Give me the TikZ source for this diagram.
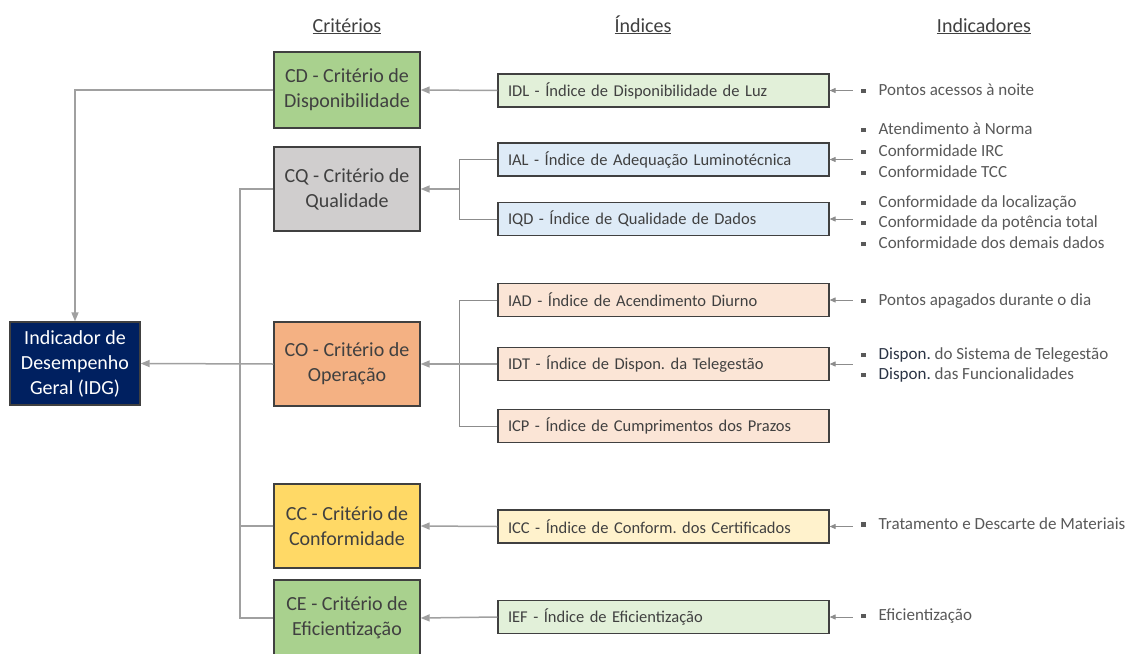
\documentclass[tikz,border=0pt]{standalone}
\usepackage{fontspec}
\setmainfont{Carlito}
\usetikzlibrary{arrows.meta}
\frenchspacing
\definecolor{txt}{HTML}{404040}
\definecolor{txtb}{HTML}{595959}
\definecolor{txtd}{HTML}{2B3445}
\definecolor{bord}{HTML}{404040}
\definecolor{lgray}{HTML}{A0A0A0}
\definecolor{mgray}{HTML}{8C8C8C}
\definecolor{navy}{HTML}{002060}
\definecolor{cgreen}{HTML}{A9D18E}
\definecolor{cgray}{HTML}{D0CECE}
\definecolor{corange}{HTML}{F4B183}
\definecolor{cyellow}{HTML}{FFD966}
\definecolor{igreen}{HTML}{E2F0D9}
\definecolor{iblue}{HTML}{DEEBF7}
\definecolor{iorange}{HTML}{FBE5D6}
\definecolor{iyellow}{HTML}{FFF2CC}
\newcommand\sqb{\raisebox{0.3ex}{\rule{4.5pt}{4.5pt}}\hspace{13pt}}
\begin{document}
\frenchspacing
\begin{tikzpicture}[x=1pt,y=-1pt,
  crit/.style={draw=bord, line width=1.3pt, minimum width=146pt, minimum height=84pt,
    align=center, font=\fontsize{20}{25}\selectfont, text=txt, inner sep=0pt},
  idx/.style={draw=bord, line width=1.2pt, minimum width=331pt, minimum height=33pt,
    text width=311pt, align=left, inner xsep=10pt, inner ysep=0pt,
    font=\fontsize{16.5}{20}\selectfont, text=txt},
  hdr/.style={anchor=base, inner sep=0pt, font=\fontsize{20}{24}\selectfont, text=txt},
  ind/.style={anchor=base west, inner sep=0pt, font=\fontsize{17}{20}\selectfont, text=txtb},
  conn/.style={draw=lgray, line width=1.5pt},
  thin/.style={draw=mgray, line width=1pt},
  arr/.style={conn, -{Triangle[length=9pt,width=7pt]}},
  sarr/.style={draw=mgray, line width=1pt, -{Triangle[length=6pt,width=5pt]}}]
\useasboundingbox (0,0) rectangle (1137,653);
\clip (0,0) rectangle (1137,653);
\fill[white] (0,0) rectangle (1137,653);

% headers
\node[hdr] (h1) at (347,32) {\underline{Critérios}};
\node[hdr] (h2) at (643,32) {\underline{Índices}};
\node[hdr] (h3) at (984,32) {\underline{Indicadores}};

% IDG
\node[draw=bord, line width=1.3pt, fill=navy, text=white, minimum width=130pt, minimum height=83pt,
  align=center, inner sep=0pt, font=\fontsize{20}{25}\selectfont] (idg) at (75,363.5)
  {Indicador de\\Desempenho\\Geral (IDG)};

% criteria
\node[crit, fill=cgreen, minimum height=76pt] (cd) at (347,90) {CD - Critério de\\Disponibilidade};
\node[crit, fill=cgray] (cq) at (347,189) {CQ - Critério de\\Qualidade};
\node[crit, fill=corange] (co) at (347,364) {CO - Critério de\\Operação};
\node[crit, fill=cyellow] (cc) at (347,526) {CC - Critério de\\Conformidade};
\node[crit, fill=cgreen, minimum height=76pt] (ce) at (347,618) {CE - Critério de\\Eficientização};

% indices
\node[idx, fill=igreen] (idl) at (663.5,90.5) {IDL - Índice de Disponibilidade de Luz};
\node[idx, fill=iblue] (ial) at (663.5,159.5) {IAL - Índice de Adequação Luminotécnica};
\node[idx, fill=iblue] (iqd) at (663.5,219) {IQD - Índice de Qualidade de Dados};
\node[idx, fill=iorange] (iad) at (663.5,300) {IAD - Índice de Acendimento Diurno};
\node[idx, fill=iorange] (idt) at (663.5,364) {IDT - Índice de Dispon. da Telegestão};
\node[idx, fill=iorange] (icp) at (663.5,426) {ICP - Índice de Cumprimentos dos Prazos};
\node[idx, fill=iyellow] (icc) at (663.5,526.5) {ICC - Índice de Conform. dos Certificados};
\node[idx, fill=igreen] (ief) at (663.5,617) {IEF - Índice de Eficientização};

% indicators
\node[ind] (t1) at (861,95.5) {\sqb Pontos acessos à noite};
\node[ind] (t2) at (861,134.5) {\sqb Atendimento à Norma};
\node[ind] (t3) at (861,156.5) {\sqb Conformidade IRC};
\node[ind] (t4) at (861,177.5) {\sqb Conformidade TCC};
\node[ind] (t5) at (861,207.5) {\sqb Conformidade da localização};
\node[ind] (t6) at (861,227.5) {\sqb Conformidade da potência total};
\node[ind] (t7) at (861,248.5) {\sqb Conformidade dos demais dados};
\node[ind] (t8) at (861,305.5) {\sqb Pontos apagados durante o dia};
\node[ind] (t9) at (861,359.5) {\sqb \textcolor{txtd}{Dispon.} do Sistema de Telegestão};
\node[ind] (t10) at (861,379.5) {\sqb \textcolor{txtd}{Dispon.} das Funcionalidades};
\node[ind] (t11) at (861,529) {\sqb Tratamento e Descarte de Materiais};
\node[ind] (t12) at (861,620.5) {\sqb Eficientização};

% indicator arrows
\foreach \b in {idl,ial,iqd,iad,idt,icc,ief}{
  \coordinate (s\b) at ([xshift=23pt]\b.east);
  \draw[sarr] (s\b) -- (\b.east);
}

% indices -> criteria
\coordinate (bx) at (459,0);
\draw[arr] (idl.west) -- (cd.east);
\draw[thin] (ial.west) -- (ial.west -| bx) -- (iqd.west -| bx) -- (iqd.west);
\draw[arr] (bx |- cq.east) -- (cq.east);
\draw[thin] (iad.west) -- (iad.west -| bx) -- (icp.west -| bx) -- (icp.west);
\draw[arr] (idt.west) -- (co.east);
\draw[arr] (icc.west) -- (cc.east);
\draw[arr] (ief.west) -- (ce.east);

% criteria -> IDG
\coordinate (sp) at (240,0);
\draw[arr] (cd.west) -| (idg.north);
\draw[conn] (cq.west) -- (cq.west -| sp) |- (ce.west);
\draw[conn] (cc.west) -- (cc.west -| sp);
\draw[arr] (co.west) -- (idg.east);
\end{tikzpicture}
\end{document}
